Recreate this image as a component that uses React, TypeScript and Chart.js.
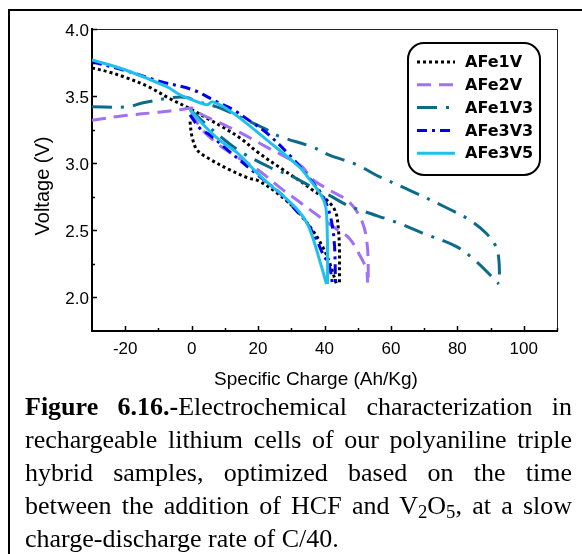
import React, { useEffect, useRef } from 'react';
import { Chart, registerables } from 'chart.js';

Chart.register(...registerables);

// ---------- data ----------
const SERIES_NAMES = ['AFe1V', 'AFe2V', 'AFe1V3', 'AFe3V3', 'AFe3V5'];

// AFe1V (two branches)
const AFE1V_UPPER: [number, number][] = [
  [-30, 3.71], [-25, 3.68], [-20, 3.64], [-13, 3.57], [-6.5, 3.48], [0, 3.4], [5, 3.33],
  [10, 3.26], [15, 3.18], [20, 3.08], [27, 2.96], [32.5, 2.87], [36.4, 2.8], [40.5, 2.73],
  [43.3, 2.64], [44.2, 2.5], [44.5, 2.36], [44.5, 2.1],
];
const AFE1V_LOWER: [number, number][] = [
  [-0.5, 3.31], [0.1, 3.2], [1.6, 3.1], [5.5, 3.03], [11.5, 2.95], [17, 2.89], [20, 2.87],
  [25.6, 2.78], [31.6, 2.65], [36.4, 2.5], [39.4, 2.38], [41.5, 2.26], [43.6, 2.1],
];
// AFe2V
const AFE2V_UPPER: [number, number][] = [
  [-30, 3.32], [-20, 3.355], [-10, 3.38], [-3, 3.4], [0.5, 3.41], [2.5, 3.37], [8.5, 3.3],
  [14.5, 3.23], [22.6, 3.12], [29.5, 3.03], [33.4, 2.97], [36.4, 2.88], [41.5, 2.8],
  [47.5, 2.71], [51.4, 2.56], [52.9, 2.38], [53.2, 2.11],
];
const AFE2V_LOWER: [number, number][] = [
  [0, 3.38], [2.5, 3.27], [7, 3.16], [11.5, 3.08], [20, 2.95], [26.5, 2.82], [32, 2.72],
  [38, 2.61], [43.6, 2.51], [47.5, 2.44], [50.5, 2.32], [52.6, 2.21], [53, 2.11],
];
// AFe1V3
const AFE1V3_UPPER: [number, number][] = [
  [-30, 3.42], [-19.5, 3.42], [-14.6, 3.45], [-5.6, 3.49], [-1.4, 3.49], [1.6, 3.46],
  [7.6, 3.42], [11.5, 3.38], [16.6, 3.32], [22.6, 3.25], [26.5, 3.2], [36.4, 3.12],
  [41.5, 3.06], [49.6, 2.99], [56.5, 2.9], [65.5, 2.8], [76.6, 2.67], [83.5, 2.58],
  [88.6, 2.48], [91.6, 2.38], [92.5, 2.28], [92.7, 2.12],
];
const AFE1V3_LOWER: [number, number][] = [
  [-0.5, 3.4], [3.4, 3.31], [10.6, 3.16], [15.1, 3.08], [23.5, 2.97], [30.4, 2.9],
  [36.4, 2.82], [41.5, 2.76], [46.6, 2.69], [51.4, 2.645], [61.6, 2.56], [69.5, 2.48],
  [79.6, 2.38], [85.6, 2.27], [92.5, 2.1],
];
// AFe3V3
const AFE3V3_UPPER: [number, number][] = [
  [-30, 3.755], [-20, 3.69], [-9.5, 3.61], [0.4, 3.546], [7.6, 3.457], [12.4, 3.4],
  [18.4, 3.3], [22.6, 3.226], [29.5, 3.06], [33.4, 2.95], [37, 2.84], [40, 2.73],
  [42, 2.58], [43, 2.39], [43.3, 2.1],
];
const AFE3V3_LOWER: [number, number][] = [
  [-0.5, 3.36], [2.5, 3.26], [5.5, 3.21], [11.5, 3.085], [20.5, 2.9], [26.5, 2.78],
  [30.4, 2.675], [34.6, 2.56], [37.6, 2.43], [39.4, 2.33], [41.5, 2.23], [42.4, 2.1],
];
// AFe3V5
const AFE3V5_UPPER: [number, number][] = [
  [-30, 3.77], [-20.5, 3.7], [-7.5, 3.57], [-3.5, 3.51], [2.5, 3.45], [4.6, 3.435],
  [6.4, 3.457], [12.4, 3.375], [22.6, 3.174], [32.5, 2.97], [35.5, 2.88], [38.5, 2.78],
  [40, 2.71], [40.6, 2.63], [40.9, 2.38], [40.9, 2.1],
];
const AFE3V5_LOWER: [number, number][] = [
  [-0.5, 3.4], [3.4, 3.29], [8.5, 3.17], [13.6, 3.08], [19.6, 2.93], [23.5, 2.84],
  [26.5, 2.78], [31.6, 2.66], [34.6, 2.56], [36.4, 2.45], [38.5, 2.28], [40.6, 2.1],
];

const SERIES_BRANCHES = [
  [AFE1V_UPPER, AFE1V_LOWER],
  [AFE2V_UPPER, AFE2V_LOWER],
  [AFE1V3_UPPER, AFE1V3_LOWER],
  [AFE3V3_UPPER, AFE3V3_LOWER],
  [AFE3V5_UPPER, AFE3V5_LOWER],
];

const X_TICKS = [-20, 0, 20, 40, 60, 80, 100];
const X_MINOR = [-10, 10, 30, 50, 70, 90, 110];
const Y_TICKS = [2.0, 2.5, 3.0, 3.5, 4.0];
const Y_MINOR = [2.25, 2.75, 3.25, 3.75];

const X_TITLE = 'Specific Charge (Ah/Kg)';
const Y_TITLE = 'Voltage (V)';

// ---------- styles ----------
const SERIES_COLORS = ['#000000', '#A070F5', '#0D6B8A', '#0000EE', '#1EC0EE'];
const SERIES_DASHES = [[3, 3], [14, 8], [20, 9, 3, 9], [10, 5, 3, 5], []];
const SANS = '"Liberation Sans", Arial, sans-serif';

const framePlugin = {
  id: 'framePlugin',
  afterDraw(chart: any) {
    const { ctx, chartArea: a, scales } = chart;
    const xs = scales.x;
    const ys = scales.y;
    ctx.save();
    // top & right frame
    ctx.strokeStyle = '#222';
    ctx.lineWidth = 1;
    ctx.beginPath();
    ctx.moveTo(a.left, a.top + 0.5);
    ctx.lineTo(a.right + 0.5, a.top + 0.5);
    ctx.lineTo(a.right + 0.5, a.bottom);
    ctx.stroke();
    // inward ticks
    ctx.strokeStyle = '#000';
    ctx.lineWidth = 1.5;
    ctx.beginPath();
    X_TICKS.forEach((v) => {
      const p = Math.round(xs.getPixelForValue(v)) + 0.5;
      ctx.moveTo(p, a.bottom);
      ctx.lineTo(p, a.bottom - 5);
    });
    X_MINOR.forEach((v) => {
      const p = Math.round(xs.getPixelForValue(v)) + 0.5;
      ctx.moveTo(p, a.bottom);
      ctx.lineTo(p, a.bottom - 3);
    });
    Y_TICKS.forEach((v) => {
      const p = Math.round(ys.getPixelForValue(v)) + 0.5;
      ctx.moveTo(a.left, p);
      ctx.lineTo(a.left + 5, p);
    });
    Y_MINOR.forEach((v) => {
      const p = Math.round(ys.getPixelForValue(v)) + 0.5;
      ctx.moveTo(a.left, p);
      ctx.lineTo(a.left + 3, p);
    });
    ctx.stroke();

    // axis titles
    ctx.fillStyle = '#000';
    ctx.font = `19px ${SANS}`;
    ctx.textAlign = 'center';
    ctx.textBaseline = 'middle';
    ctx.fillText(X_TITLE, 316, 380);
    ctx.font = `20px ${SANS}`;
    ctx.save();
    ctx.translate(43, 186);
    ctx.rotate(-Math.PI / 2);
    ctx.fillText(Y_TITLE, 0, 0);
    ctx.restore();

    // legend
    const L = 408, T = 43, R = 540, B = 175, rad = 16;
    ctx.beginPath();
    ctx.moveTo(L + rad, T);
    ctx.arcTo(R, T, R, B, rad);
    ctx.arcTo(R, B, L, B, rad);
    ctx.arcTo(L, B, L, T, rad);
    ctx.arcTo(L, T, R, T, rad);
    ctx.closePath();
    ctx.fillStyle = '#fff';
    ctx.fill();
    ctx.lineWidth = 2;
    ctx.strokeStyle = '#000';
    ctx.stroke();
    SERIES_NAMES.forEach((name, i) => {
      const y = 62 + i * 22.8;
      ctx.beginPath();
      ctx.setLineDash(SERIES_DASHES[i]);
      ctx.lineCap = 'butt';
      ctx.lineWidth = 3;
      ctx.strokeStyle = SERIES_COLORS[i];
      ctx.moveTo(417, y);
      ctx.lineTo(455, y);
      ctx.stroke();
      ctx.setLineDash([]);
      ctx.fillStyle = '#000';
      ctx.font = `bold 16px "Comic Sans MS", "DejaVu Sans", sans-serif`;
      ctx.textAlign = 'left';
      ctx.textBaseline = 'middle';
      ctx.fillText(name, 465, y + 1);
    });
    ctx.restore();
  },
};

function ChartBox() {
  const ref = useRef<HTMLCanvasElement | null>(null);
  useEffect(() => {
    if (!ref.current) return;
    const datasets: any[] = [];
    SERIES_NAMES.forEach((name, i) => {
      SERIES_BRANCHES[i].forEach((branch) => {
        datasets.push({
          label: name,
          data: branch.map(([x, y]) => ({ x, y })),
          borderColor: SERIES_COLORS[i],
          backgroundColor: SERIES_COLORS[i],
          borderDash: SERIES_DASHES[i],
          borderWidth: 3,
          borderCapStyle: 'butt',
          pointRadius: 0,
          tension: 0.35,
          fill: false,
          order: 5 - i,
        });
      });
    });
    const chart = new Chart(ref.current, {
      type: 'line',
      data: { datasets },
      plugins: [framePlugin],
      options: {
        animation: false,
        responsive: false,
        devicePixelRatio: 1,
        layout: { padding: { left: 0, right: 25, top: 29, bottom: 0 } },
        plugins: { legend: { display: false }, tooltip: { enabled: false } },
        scales: {
          x: {
            type: 'linear',
            min: -30,
            max: 110,
            afterBuildTicks: (s: any) => {
              s.ticks = X_TICKS.map((v) => ({ value: v }));
            },
            afterFit: (s: any) => {
              s.height = 69;
            },
            grid: { display: false, drawTicks: false },
            border: { display: true, width: 2, color: '#000' },
            ticks: {
              color: '#000',
              padding: 8,
              maxRotation: 0,
              font: { family: SANS, size: 17 },
              callback: (v: any) => String(v),
            },
          },
          y: {
            type: 'linear',
            min: 1.75,
            max: 4.0,
            afterBuildTicks: (s: any) => {
              s.ticks = Y_TICKS.map((v) => ({ value: v }));
            },
            afterFit: (s: any) => {
              s.width = 92;
            },
            grid: { display: false, drawTicks: false },
            border: { display: true, width: 2, color: '#000' },
            ticks: {
              color: '#000',
              padding: 3,
              labelOffset: 2,
              font: { family: SANS, size: 17 },
              callback: (v: any) => Number(v).toFixed(1),
            },
          },
        },
      } as any,
    });
    return () => chart.destroy();
  }, []);
  return (
    <canvas
      ref={ref}
      width={582}
      height={400}
      style={{ position: 'absolute', left: 0, top: 0, width: 582, height: 400 }}
    />
  );
}

const subStyle: React.CSSProperties = { fontSize: '0.72em', verticalAlign: '-0.22em', lineHeight: 0 };

export default function App() {
  return (
    <div style={{ position: 'fixed', left: 0, top: 0, width: 582, height: 554, overflow: 'hidden', background: '#fff' }}>
      <div
        style={{
          position: 'absolute',
          left: 8,
          top: 9,
          width: 700,
          height: 700,
          border: '2px solid #000',
          boxSizing: 'border-box',
        }}
      />
      <ChartBox />
      <div
        style={{
          position: 'absolute',
          left: 25,
          top: 390,
          width: 547,
          fontFamily: '"Liberation Serif", "Times New Roman", serif',
          fontSize: 26,
          lineHeight: '33px',
          textAlign: 'justify',
          color: '#000',
        }}
      >
        <b>Figure 6.16.-</b>Electrochemical characterization in rechargeable lithium cells of our
        polyaniline triple hybrid samples, optimized based on the time between the addition of HCF
        and V<span style={subStyle}>2</span>O<span style={subStyle}>5</span>, at a slow
        charge-discharge rate of C/40.
      </div>
    </div>
  );
}
